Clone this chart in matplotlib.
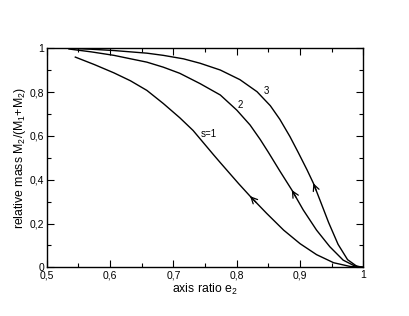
import numpy as np
import matplotlib
matplotlib.use("Agg")
import matplotlib.pyplot as plt
from matplotlib.ticker import MultipleLocator, FuncFormatter

plt.rcParams['font.family'] = ['Liberation Sans', 'DejaVu Sans']
plt.rcParams['mathtext.fontset'] = 'custom'
plt.rcParams['mathtext.rm'] = 'Liberation Sans'
plt.rcParams['mathtext.it'] = 'Liberation Sans'

# curves (axis ratio e2, relative mass)
e_s1 = [0.545, 0.575, 0.606, 0.632, 0.658, 0.684, 0.710, 0.731, 0.747, 0.763, 0.774,
        0.790, 0.803, 0.821, 0.847, 0.874, 0.900, 0.926, 0.953, 0.979, 1.0]
m_s1 = [0.960, 0.926, 0.888, 0.852, 0.808, 0.748, 0.683, 0.625, 0.570, 0.515, 0.478,
        0.425, 0.382, 0.325, 0.247, 0.170, 0.108, 0.058, 0.021, 0.004, 0.0]

e_s2 = [0.535, 0.570, 0.606, 0.631, 0.658, 0.684, 0.710, 0.742, 0.774, 0.800, 0.821,
        0.837, 0.850, 0.868, 0.887, 0.905, 0.926, 0.947, 0.968, 0.985, 1.0]
m_s2 = [0.997, 0.984, 0.968, 0.953, 0.937, 0.914, 0.886, 0.839, 0.787, 0.718, 0.650,
        0.584, 0.525, 0.440, 0.353, 0.262, 0.170, 0.094, 0.033, 0.008, 0.0]

e_s3 = [0.535, 0.570, 0.606, 0.658, 0.684, 0.716, 0.742, 0.774, 0.805, 0.832, 0.853,
        0.868, 0.884, 0.897, 0.911, 0.921, 0.933, 0.945, 0.960, 0.975, 0.990, 1.0]
m_s3 = [1.000, 0.996, 0.990, 0.978, 0.968, 0.952, 0.932, 0.901, 0.857, 0.802, 0.738,
        0.676, 0.597, 0.525, 0.445, 0.384, 0.295, 0.205, 0.105, 0.035, 0.004, 0.0]

# index of the point carrying the arrow head on each curve
curves = [(e_s1, m_s1, 13), (e_s2, m_s2, 14), (e_s3, m_s3, 15)]
labels = [("s=1", 0.755, 0.607), ("2", 0.806, 0.741), ("3", 0.846, 0.806)]

fig = plt.figure(figsize=(4.09, 3.16), dpi=100)
ax = fig.add_axes([0.1145, 0.154, 0.774, 0.693])

for e, m, k in curves:
    ax.plot(e, m, color='black', lw=1.0)
    tip = np.array([e[k], m[k]])
    nxt = np.array([e[k + 1], m[k + 1]])
    tail = tip + 0.35 * (nxt - tip)
    ax.annotate('', xy=tip, xytext=tail,
                arrowprops=dict(arrowstyle='->,head_length=0.45,head_width=0.22',
                                color='black', lw=0.9, shrinkA=0, shrinkB=0))

for txt, x, y in labels:
    ax.text(x, y, txt, fontsize=7, ha='center', va='center')

ax.set_xlim(0.5, 1.0)
ax.set_ylim(0, 1.0)
ax.xaxis.set_major_locator(MultipleLocator(0.1))
ax.xaxis.set_minor_locator(MultipleLocator(0.05))
ax.yaxis.set_major_locator(MultipleLocator(0.2))
ax.yaxis.set_minor_locator(MultipleLocator(0.1))

def comma(v, pos):
    s = ('%.1f' % v).rstrip('0').rstrip('.')
    return s.replace('.', ',')

ax.xaxis.set_major_formatter(FuncFormatter(comma))
ax.yaxis.set_major_formatter(FuncFormatter(comma))
ax.tick_params(which='both', direction='in', top=True, right=True, labelsize=7.5, pad=2)
ax.tick_params(which='major', length=5, width=0.8)
ax.tick_params(which='minor', length=3, width=0.8)
for sp in ax.spines.values():
    sp.set_linewidth(1.0)

ax.set_xlabel(r'axis ratio e$_2$', fontsize=8.8, labelpad=1)
ax.set_ylabel(r'relative mass M$_2$/(M$_1$+M$_2$)', fontsize=8.8, labelpad=1)

fig.savefig('out.png', dpi=100)
